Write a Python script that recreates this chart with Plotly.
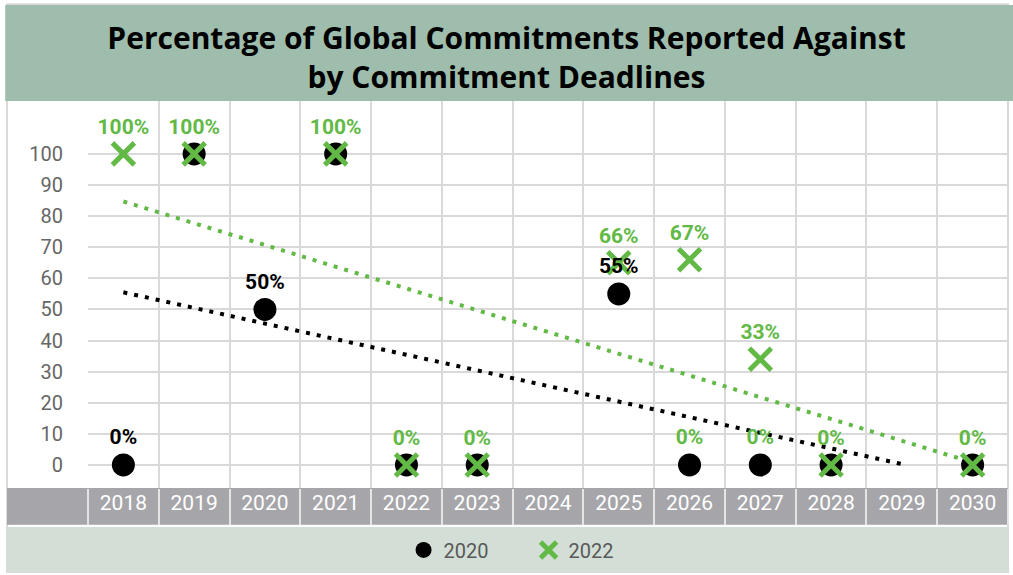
import plotly.graph_objects as go

# chart data
years = ['2018', '2019', '2020', '2021', '2022', '2023', '2024',
         '2025', '2026', '2027', '2028', '2029', '2030']

vals_2020 = [0, 100, 50, 100, 0, 0, None, 55, 0, 0, 0, None, 0]
labels_2020 = ['0%', '', '50%', '', '', '', '', '55%', '0%', '0%', '', '', '']
label_colors_2020 = ['black', 'black', 'black', 'black', 'black', 'black', 'black',
                     'black', '#62b946', '#62b946', 'black', 'black', 'black']

vals_2022 = [100, 100, None, 100, 0, 0, None, 65, 66, 34, 0, None, 0]
labels_2022 = ['100%', '100%', '', '100%', '0%', '0%', '', '66%', '67%', '33%', '0%', '', '0%']

trend_2020_x = ['2018', '2029']
trend_2020_y = [55.5, 0.3]
trend_2022_x = ['2018', '2030']
trend_2022_y = [84.7, 0.8]

y_ticks = [0, 10, 20, 30, 40, 50, 60, 70, 80, 90, 100]

GREEN = '#62b946'
BANNER = '#9ebdad'
BAND = '#a6a6aa'
LEGBAND = '#d3dfd6'
GRID = '#d9d9d9'
NARROW = 'Roboto, sans-serif'

fig = go.Figure()

# dotted trend lines
fig.add_trace(go.Scatter(x=trend_2022_x, y=trend_2022_y, mode='lines',
                         line=dict(color=GREEN, width=4, dash='4px,7px'),
                         showlegend=False, hoverinfo='skip'))
fig.add_trace(go.Scatter(x=trend_2020_x, y=trend_2020_y, mode='lines',
                         line=dict(color='black', width=4, dash='4px,7px'),
                         showlegend=False, hoverinfo='skip'))

fig.add_trace(go.Scatter(
    x=years, y=vals_2020, name='2020', mode='markers',
    marker=dict(symbol='circle', size=23, color='black'),
))
fig.add_trace(go.Scatter(
    x=years, y=vals_2022, name='2022', mode='markers+text',
    marker=dict(symbol='x-thin', size=22, color=GREEN,
                line=dict(color=GREEN, width=5)),
    text=labels_2022, textposition='top center',
    textfont=dict(family=NARROW, size=21, color=GREEN, weight='bold'),
))
# 2020 labels drawn last so they sit on top of the crosses
fig.add_trace(go.Scatter(
    x=years, y=vals_2020, mode='markers+text', showlegend=False, hoverinfo='skip',
    marker=dict(symbol='circle', size=23, color='rgba(0,0,0,0)'),
    text=labels_2020, textposition='top center',
    textfont=dict(family=NARROW, size=21, color=label_colors_2020, weight='bold'),
))

shapes = [
    # outer frame
    dict(type='rect', xref='paper', yref='paper', x0=-0.088, x1=1.0, y0=-0.217, y1=1.25,
         line=dict(color='#d9d9d9', width=2), fillcolor='rgba(0,0,0,0)', layer='below'),
    # title banner
    dict(type='rect', xref='paper', yref='paper', x0=-0.09, x1=1.01, y0=1.0, y1=1.248,
         line=dict(width=0), fillcolor=BANNER, layer='above'),
    # grey year band
    dict(type='rect', xref='paper', yref='paper', x0=-0.088, x1=1.0, y0=-0.095, y1=0.0,
         line=dict(width=0), fillcolor=BAND, layer='below'),
    # legend band
    dict(type='rect', xref='paper', yref='paper', x0=-0.088, x1=1.0, y0=-0.217, y1=-0.101,
         line=dict(width=0), fillcolor=LEGBAND, layer='below'),
]

fig.update_layout(
    width=1013, height=575, autosize=False,
    margin=dict(l=88, r=5, t=101, b=87, autoexpand=False),
    paper_bgcolor='white', plot_bgcolor='white',
    title=dict(text='<b>Percentage of Global Commitments Reported Against<br>by Commitment Deadlines</b>',
               x=0.5, xref='container', xanchor='center',
               y=1 - 49 / 575, yref='container', yanchor='middle',
               font=dict(family='Open Sans, sans-serif', size=30, color='black')),
    shapes=shapes,
    legend=dict(orientation='h', x=0.343, xanchor='left', y=-0.16, yanchor='middle',
                bgcolor='rgba(0,0,0,0)', entrywidth=80,
                font=dict(family=NARROW, size=20, color='#595959')),
    xaxis=dict(type='category', categoryorder='array', categoryarray=years,
               range=[-0.5, 12.5], tickson='boundaries',
               showgrid=True, gridcolor=GRID, gridwidth=2,
               ticks='outside', ticklen=36, tickwidth=2, tickcolor='#e4e4e4',
               tickfont=dict(family=NARROW, size=21, color='white'),
               showline=False, zeroline=False, automargin=False),
    yaxis=dict(range=[-7.4, 117], tickvals=y_ticks,
               showgrid=True, gridcolor=GRID, gridwidth=2,
               zeroline=False, showline=False, ticks='',
               ticklabelstandoff=24,
               tickfont=dict(family=NARROW, size=20, color='#666666'),
               automargin=False),
)

fig.write_html('out.html', config={'displayModeBar': False},
               post_script="document.body.style.margin='0';")
